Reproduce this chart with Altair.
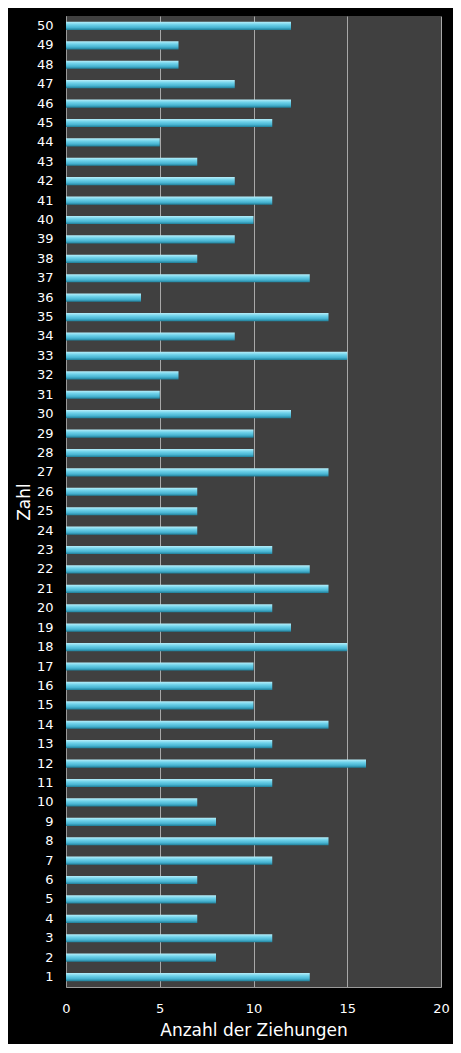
import altair as alt
import pandas as pd

zahlen = list(range(1, 51))
anzahl = [13, 8, 11, 7, 8, 7, 11, 14, 8, 7,
          11, 16, 11, 14, 10, 11, 10, 15, 12, 11,
          14, 13, 11, 7, 7, 7, 14, 10, 10, 12,
          5, 6, 15, 9, 14, 4, 13, 7, 9, 10,
          11, 9, 7, 5, 11, 12, 9, 6, 6, 12]

df = pd.DataFrame({"Zahl": zahlen, "Anzahl": anzahl})

bar_fill = alt.Gradient(
    gradient="linear",
    stops=[
        alt.GradientStop(color="#B6EEFA", offset=0),
        alt.GradientStop(color="#6FD2EA", offset=0.35),
        alt.GradientStop(color="#48B4D2", offset=0.7),
        alt.GradientStop(color="#1F7E98", offset=1),
    ],
    x1=0, x2=0, y1=0, y2=1,
)

chart = (
    alt.Chart(df)
    .mark_bar(color=bar_fill)
    .encode(
        x=alt.X(
            "Anzahl:Q",
            title="Anzahl der Ziehungen",
            scale=alt.Scale(domain=[0, 20], nice=False),
            axis=alt.Axis(values=[0, 5, 10, 15, 20], grid=True, labelFlush=False),
        ),
        y=alt.Y(
            "Zahl:O",
            title="Zahl",
            sort="descending",
            scale=alt.Scale(paddingInner=0.58, paddingOuter=0.3),
        ),
    )
    .properties(
        width=375,
        height=971,
        background="#000000",
        padding={"left": 58, "top": 8, "right": 12, "bottom": 57},
        autosize=alt.AutoSizeParams(type="none"),
    )
    .configure_view(fill="#404040", stroke=None)
    .configure_axis(
        labelColor="#FFFFFF",
        titleColor="#FFFFFF",
        labelFont="DejaVu Sans",
        titleFont="DejaVu Sans",
        labelFontSize=13,
        titleFontSize=17,
        titleFontWeight="normal",
        ticks=False,
        domainColor="#9A9A9A",
        gridColor="#A8A8A8",
        gridWidth=1,
    )
    .configure_axisX(labelPadding=15, titlePadding=7)
    .configure_axisY(labelPadding=13, titlePadding=3, grid=False)
)

chart.save("out.html", embed_options={"renderer": "svg", "actions": False})
